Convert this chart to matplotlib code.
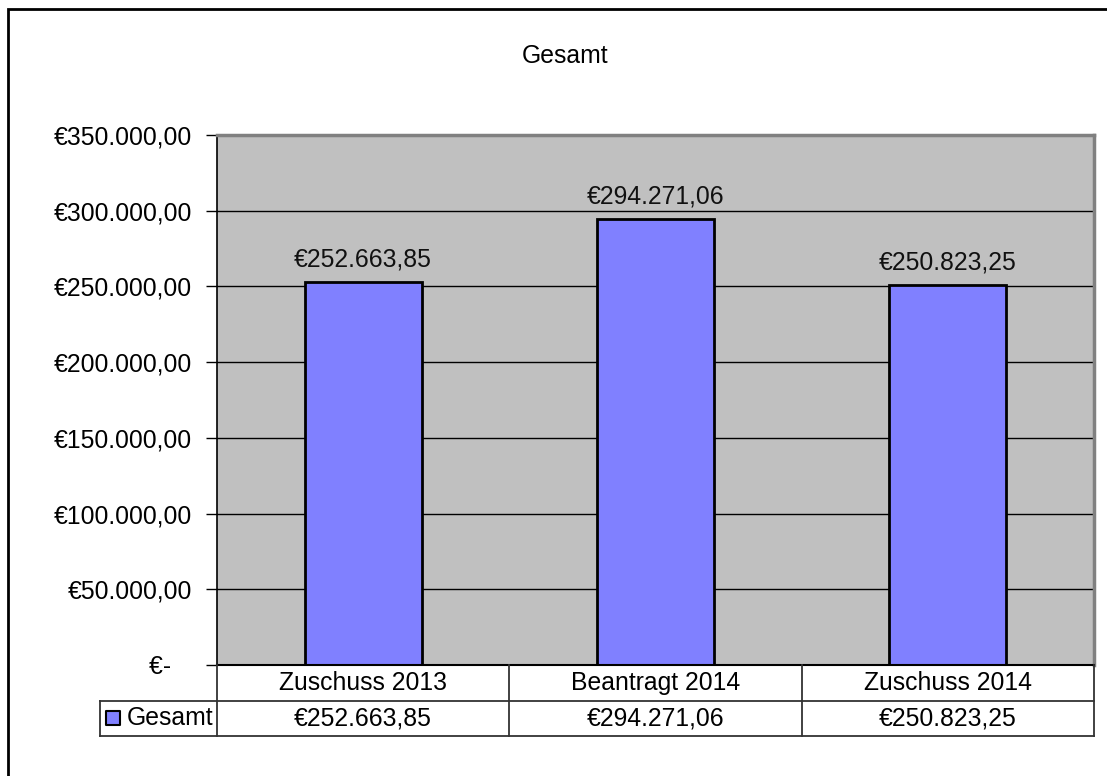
import matplotlib.pyplot as plt
from matplotlib.patches import Rectangle

plt.rcParams["font.family"] = ["Liberation Sans", "DejaVu Sans"]

# Daten
kategorien = ["Zuschuss 2013", "Beantragt 2014", "Zuschuss 2014"]
gesamt = [252663.85, 294271.06, 250823.25]
serie = "Gesamt"
y_ticks = [0, 50000, 100000, 150000, 200000, 250000, 300000, 350000]


def euro(v):
    # deutsches Format: €252.663,85
    s = f"{v:,.2f}".replace(",", "X").replace(".", ",").replace("X", ".")
    return "€" + s


fs = 17.8
W, H = 1107, 776
fig = plt.figure(figsize=(W / 100, H / 100), dpi=100)

# äußerer Rahmen (rechts/unten abgeschnitten)
fig.patches.append(Rectangle((8 / W, -0.1), 1.2, 1 - 9 / H + 0.1, transform=fig.transFigure,
                             fill=False, edgecolor="black", linewidth=2))

ax = fig.add_axes([217 / W, (H - 665) / H, 877 / W, 530 / H])
ax.set_facecolor("#C0C0C0")
x = range(len(kategorien))
ax.bar(x, gesamt, width=0.4, color="#8080FF", edgecolor="black", linewidth=2, zorder=3)
ax.set_xlim(-0.5, len(kategorien) - 0.5)
ax.set_ylim(0, 350000)
ax.set_yticks(y_ticks)
ax.set_yticklabels([euro(v) if v else "€-   " for v in y_ticks], fontsize=fs)
ax.set_xticks([])
ax.tick_params(axis="y", length=8, width=1, pad=10)
for v in y_ticks[1:-1]:
    ax.axhline(v, color="black", linewidth=1, zorder=1)
for s in ["top", "right"]:
    ax.spines[s].set_color("#808080")
    ax.spines[s].set_linewidth(2.5)
ax.spines["left"].set_linewidth(1.2)
ax.spines["bottom"].set_visible(False)

for i, v in enumerate(gesamt):
    ax.annotate(euro(v), (i, v), xytext=(0, 16.5), textcoords="offset points",
                ha="center", va="center", fontsize=fs, color="#111111")

fig.text(565 / W, 1 - 56 / H, "Gesamt", ha="center", va="center", fontsize=fs)

# Datentabelle
tab = fig.add_axes([100 / W, (H - 736) / H, 994 / W, 71 / H])
links = -0.5 - 117 / 292.33
tab.set_xlim(links, len(kategorien) - 0.5)
tab.set_ylim(0, 2)
tab.axis("off")
lc = "#333333"
tab.plot([-0.5, len(kategorien) - 0.5], [2, 2], color="black", lw=1.5, clip_on=False)
for yy in [0, 1]:
    tab.plot([links, len(kategorien) - 0.5], [yy, yy], color=lc, lw=1.3, clip_on=False)
tab.plot([links, links], [0, 1], color=lc, lw=1.3, clip_on=False)
for xx in [i - 0.5 for i in range(len(kategorien) + 1)]:
    tab.plot([xx, xx], [0, 2], color=lc, lw=1.3, clip_on=False)
for i, (k, v) in enumerate(zip(kategorien, gesamt)):
    tab.text(i, 1.5, k, ha="center", va="center", fontsize=fs)
    tab.text(i, 0.5, euro(v), ha="center", va="center", fontsize=fs)
tab.scatter([links + 0.045], [0.5], marker="s", s=110, color="#8080FF",
            edgecolor="black", linewidth=1.5, clip_on=False)
tab.text(links + 0.09, 0.5, serie, ha="left", va="center", fontsize=fs)

fig.savefig("out.png", dpi=100)
